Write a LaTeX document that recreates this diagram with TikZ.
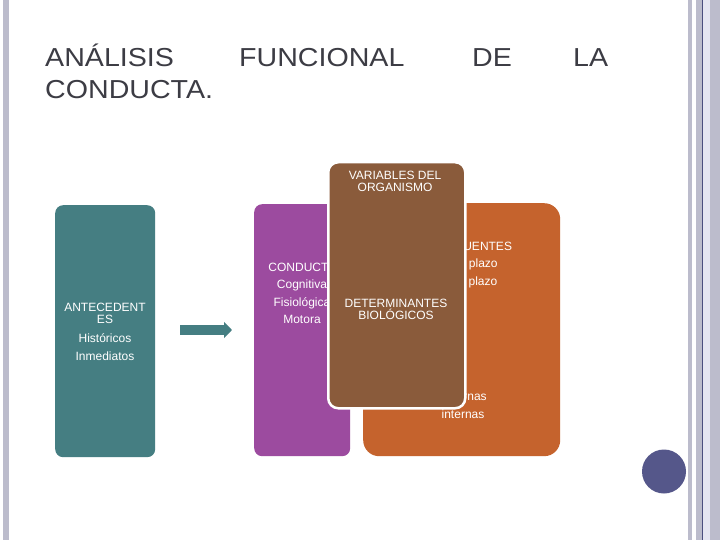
\documentclass[tikz,border=0pt]{standalone}
\usepackage{fontspec}
\setmainfont{Liberation Sans}
\newfontfamily\titlefont[FakeStretch=1.1]{Liberation Sans}
\usetikzlibrary{arrows.meta}
\definecolor{tealc}{HTML}{457E82}
\definecolor{purplec}{HTML}{9C4B9F}
\definecolor{orangec}{HTML}{C5632D}
\definecolor{brownc}{HTML}{8A5B3B}
\definecolor{circlec}{HTML}{55578A}
\definecolor{barc}{HTML}{BCBCCC}
\definecolor{barline}{HTML}{4B4E7E}
\definecolor{titlec}{HTML}{3C3C44}
\begin{document}
\begin{tikzpicture}[x=1pt,y=-1pt,
  boxshape/.style={draw=none,rectangle,inner sep=0pt,anchor=north west},
  boxtext/.style={text=white,font=\fontsize{12}{14}\selectfont,inner sep=0pt,anchor=base},
  titletext/.style={text=titlec,font=\titlefont\fontsize{26}{30}\selectfont,inner sep=0pt,anchor=base west}]
\useasboundingbox (0,0) rectangle (720,540);
\fill[white] (0,0) rectangle (720,540);
% side bars
\fill[barc] (3,0) rectangle (9,540);
\fill[barc] (688,0) rectangle (692,540);
\fill[barc] (696,0) rectangle (720,540);
\fill[barc!90!blue!30] (703,0) rectangle (710,540);
\draw[barline,line width=1pt] (702.5,0) -- (702.5,540);
% title
\node[titletext] (t1) at (45,67) {ANÁLISIS};
\node[titletext] (t2) at (239,67) {FUNCIONAL};
\node[titletext] (t3) at (472,67) {DE};
\node[titletext] (t4) at (573,67) {LA};
\node[titletext] (t5) at (45,99) {CONDUCTA.};
% teal box
\node[boxshape,fill=tealc,rounded corners=8pt,minimum width=100pt,minimum height=252pt] (ante) at (55,205) {};
\node[boxtext] (a1) at (105,311) {ANTECEDENT};
\node[boxtext] (a2) at (105,323.5) {ES};
\node[boxtext] (a3) at (105,342) {Históricos};
\node[boxtext] (a4) at (105,360) {Inmediatos};
% arrow
\coordinate (arrs) at (180,330);
\coordinate (arre) at (232,330);
\draw[tealc,line width=10pt,-{Triangle[length=8pt,width=16pt]}] (arrs) -- (arre);
% purple box
\node[boxshape,fill=purplec,rounded corners=8pt,minimum width=96pt,minimum height=252pt] (cond) at (254,204) {};
\node[boxtext] (c1) at (302,271) {CONDUCTA};
\node[boxtext] (c2) at (302,288) {Cognitiva};
\node[boxtext] (c3) at (302,306) {Fisiológica};
\node[boxtext] (c4) at (302,323) {Motora};
% orange box
\node[boxshape,fill=orangec,rounded corners=16pt,minimum width=197pt,minimum height=253pt] (cons) at (363,203) {};
\node[boxtext] (o1) at (462,250) {CONSECUENTES};
\node[boxtext] (o2) at (467,267) {Corto plazo};
\node[boxtext] (o3) at (466,285) {Largo plazo};
\node[boxtext] (o4) at (463,400) {Externas};
\node[boxtext] (o5) at (463,418) {internas};
% brown box
\node[boxshape,fill=brownc,draw=white,line width=2.5pt,rounded corners=10pt,minimum width=137pt,minimum height=246pt] (org) at (327,161) {};
\node[boxtext] (b1) at (395,180) {VARIABLES DEL};
\node[boxtext] (b2) at (395,192) {ORGANISMO};
\node[boxtext] (b3) at (396,307) {DETERMINANTES};
\node[boxtext] (b4) at (396,319) {BIOLÓGICOS};
% circle
\node[circle,fill=circlec,minimum size=44pt,inner sep=0pt] (dot) at (664,471.5) {};
\end{tikzpicture}
\end{document}
